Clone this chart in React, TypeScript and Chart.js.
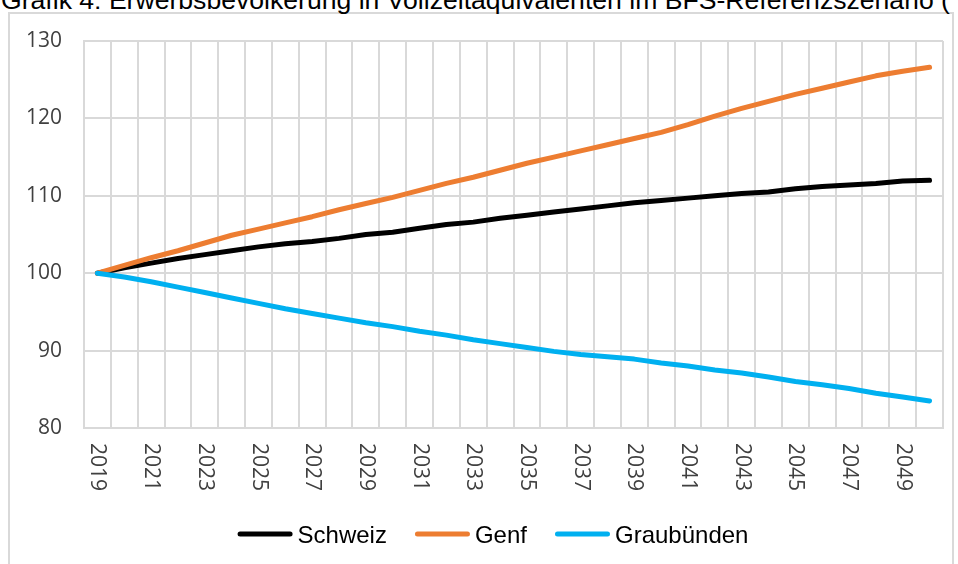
import { useEffect, useRef } from "react";
import { Chart, registerables } from "chart.js";

Chart.register(...registerables);

const TITLE = "Grafik 4: Erwerbsbevölkerung in Vollzeitäquivalenten im BFS-Referenzszenario (";

const years = [
  "2019", "2020", "2021", "2022", "2023", "2024", "2025", "2026",
  "2027", "2028", "2029", "2030", "2031", "2032", "2033", "2034",
  "2035", "2036", "2037", "2038", "2039", "2040", "2041", "2042",
  "2043", "2044", "2045", "2046", "2047", "2048", "2049", "2050",
];

const xTickLabels = [
  "2019", "2021", "2023", "2025", "2027", "2029", "2031", "2033",
  "2035", "2037", "2039", "2041", "2043", "2045", "2047", "2049",
];

const schweiz = [
  100, 100.7, 101.3, 101.9, 102.4, 102.9, 103.4, 103.8,
  104.1, 104.5, 105.0, 105.3, 105.8, 106.3, 106.6, 107.1,
  107.5, 107.9, 108.3, 108.7, 109.1, 109.4, 109.7, 110.0,
  110.3, 110.5, 110.9, 111.2, 111.4, 111.6, 111.9, 112.0,
];

const genf = [
  100, 101.0, 102.0, 102.9, 103.9, 104.9, 105.7, 106.5,
  107.3, 108.2, 109.0, 109.8, 110.7, 111.6, 112.4, 113.3,
  114.2, 115.0, 115.8, 116.6, 117.4, 118.2, 119.2, 120.3,
  121.3, 122.2, 123.1, 123.9, 124.7, 125.5, 126.1, 126.6,
];

const graubuenden = [
  100, 99.5, 98.9, 98.2, 97.5, 96.8, 96.1, 95.4,
  94.8, 94.2, 93.6, 93.1, 92.5, 92.0, 91.4, 90.9,
  90.4, 89.9, 89.5, 89.2, 88.9, 88.4, 88.0, 87.5,
  87.1, 86.6, 86.0, 85.6, 85.1, 84.5, 84.0, 83.5,
];

const seriesNames = ["Schweiz", "Genf", "Graubünden"];
const seriesColors = ["#000000", "#ED7D31", "#00B0F0"];

const yMin = 80;
const yMax = 130;
const yStep = 10;

const GRID = "#d9d9d9";
const AXIS_FONT = '"Open Sans", "Noto Sans", sans-serif';
const LEGEND_FONT = '"Liberation Sans", Arial, sans-serif';

const xLabelPlugin = {
  id: "xLabelsRotated",
  afterDraw(chart: any) {
    const ctx = chart.ctx;
    const xs = chart.scales.x;
    ctx.save();
    ctx.font = `21px ${AXIS_FONT}`;
    ctx.fillStyle = "#404040";
    ctx.textAlign = "left";
    ctx.textBaseline = "middle";
    xTickLabels.forEach((lab) => {
      const idx = years.indexOf(lab);
      const px = xs.getPixelForValue(idx);
      ctx.save();
      ctx.translate(px, chart.chartArea.bottom + 15);
      ctx.rotate(Math.PI / 2);
      ctx.fillText(lab, 0, 0);
      ctx.restore();
    });
    ctx.restore();
  },
};

const legendPlugin = {
  id: "customLegend",
  afterDraw(chart: any) {
    const ctx = chart.ctx;
    ctx.save();
    ctx.font = `24px ${LEGEND_FONT}`;
    const lineLen = 55;
    const gapText = 5;
    const gapItem = 28;
    const items = chart.data.datasets.map((ds: any) => ({
      label: ds.label,
      color: ds.borderColor,
      w: ctx.measureText(ds.label).width,
    }));
    let total = 0;
    items.forEach((it: any, i: number) => {
      total += lineLen + gapText + it.w + (i > 0 ? gapItem : 0);
    });
    let x = 493 - total / 2;
    const y = 534;
    items.forEach((it: any) => {
      ctx.beginPath();
      ctx.strokeStyle = it.color;
      ctx.lineWidth = 5;
      ctx.lineCap = "round";
      ctx.moveTo(x + 2.5, y);
      ctx.lineTo(x + lineLen - 2.5, y);
      ctx.stroke();
      ctx.fillStyle = "#000";
      ctx.textAlign = "left";
      ctx.textBaseline = "alphabetic";
      ctx.fillText(it.label, x + lineLen + gapText, y + 9);
      x += lineLen + gapText + it.w + gapItem;
    });
    ctx.restore();
  },
};

export default function App() {
  const ref = useRef<HTMLCanvasElement>(null);

  useEffect(() => {
    const values = [schweiz, genf, graubuenden];
    const chart = new Chart(ref.current as HTMLCanvasElement, {
      type: "line",
      data: {
        labels: years,
        datasets: values.map((v, i) => ({
          label: seriesNames[i],
          data: v,
          borderColor: seriesColors[i],
          backgroundColor: seriesColors[i],
          borderWidth: 5,
          pointRadius: 0,
          pointHoverRadius: 0,
          borderCapStyle: "round",
          borderJoinStyle: "round",
          tension: 0,
          fill: false,
          order: 3 - i,
        })),
      },
      options: {
        responsive: false,
        animation: false,
        devicePixelRatio: 1,
        layout: { padding: { left: 0, top: 41, right: 15, bottom: 0 } },
        plugins: {
          legend: { display: false },
          tooltip: { enabled: false },
          title: { display: false },
        },
        scales: {
          x: {
            type: "category",
            offset: true,
            grid: { offset: true, color: GRID, lineWidth: 2, drawTicks: false },
            border: { color: GRID, width: 2 },
            ticks: { display: false },
            afterFit: (s: any) => {
              s.height = 136;
            },
          },
          y: {
            min: yMin,
            max: yMax,
            ticks: {
              stepSize: yStep,
              padding: 22,
              color: "#404040",
              font: { family: AXIS_FONT, size: 21 },
            },
            grid: { color: GRID, lineWidth: 2, drawTicks: false },
            border: { color: GRID, width: 2 },
            afterFit: (s: any) => {
              s.width = 84;
            },
          },
        },
      } as any,
      plugins: [xLabelPlugin, legendPlugin],
    });
    return () => chart.destroy();
  }, []);

  return (
    <div
      style={{
        position: "fixed",
        left: 0,
        top: 0,
        width: 958,
        height: 564,
        overflow: "hidden",
        background: "#fff",
      }}
    >
      <div
        style={{
          position: "absolute",
          left: 8,
          top: 12,
          width: 946,
          height: 600,
          border: `2px solid ${GRID}`,
          boxSizing: "border-box",
        }}
      />
      <div
        style={{
          position: "absolute",
          left: 1,
          top: -13,
          fontFamily: LEGEND_FONT,
          fontSize: 26.6,
          lineHeight: "26.6px",
          whiteSpace: "nowrap",
          color: "#000",
        }}
      >
        {TITLE}
      </div>
      <canvas
        ref={ref}
        width={958}
        height={564}
        style={{ position: "absolute", left: 0, top: 0, width: 958, height: 564 }}
      />
    </div>
  );
}
